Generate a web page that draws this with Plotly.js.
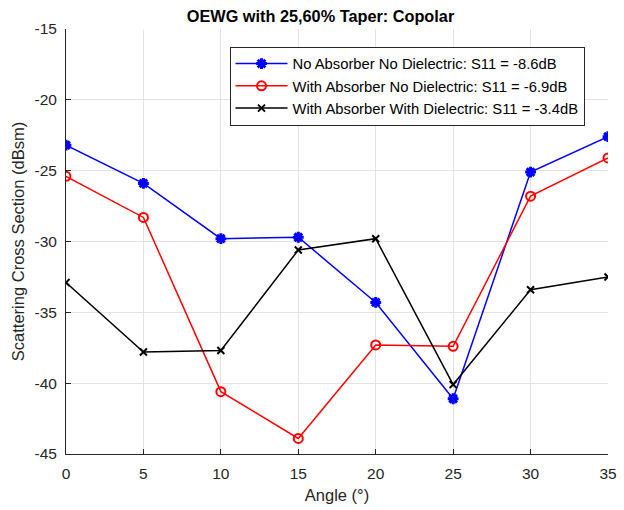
<!DOCTYPE html>
<html><head><meta charset="utf-8">
<script src="https://cdn.plot.ly/plotly-3.0.1.min.js"></script>
<style>html,body{margin:0;padding:0;background:#fff}#chart{width:624px;height:510px}</style>
</head><body><div id="chart"></div>
<script>
const angles = [0, 5, 10, 15, 20, 25, 30, 35];
const noAbsNoDiel = [-23.2, -25.9, -29.8, -29.7, -34.3, -41.1, -25.1, -22.6];
const absNoDiel = [-25.4, -28.3, -40.6, -43.9, -37.3, -37.4, -26.8, -24.1];
const absWithDiel = [-32.9, -37.8, -37.7, -30.6, -29.8, -40.1, -33.4, -32.5];
const seriesNames = [
  'No Absorber No Dielectric: S11 = -8.6dB',
  'With Absorber No Dielectric: S11 = -6.9dB',
  'With Absorber With Dielectric: S11 = -3.4dB'
];
const xTicks = [0, 5, 10, 15, 20, 25, 30, 35];
const yTicks = [-45, -40, -35, -30, -25, -20, -15];

const font = 'Liberation Sans, Arial, sans-serif';
const traces = [
  {x: angles, y: noAbsNoDiel, name: seriesNames[0], mode: 'lines+markers',
   line: {color: '#0000ff', width: 1.5},
   marker: {symbol: 'asterisk-open', size: 9, color: '#0000ff', line: {color: '#0000ff', width: 3}}},
  {x: angles, y: absNoDiel, name: seriesNames[1], mode: 'lines+markers',
   line: {color: '#ff0000', width: 1.5},
   marker: {symbol: 'circle-open', size: 9, color: '#ff0000', line: {color: '#ff0000', width: 2}}},
  {x: angles, y: absWithDiel, name: seriesNames[2], mode: 'lines+markers',
   line: {color: '#000000', width: 1.5},
   marker: {symbol: 'x-thin-open', size: 7, color: '#000000', line: {color: '#000000', width: 2}}}
];
const layout = {
  width: 624, height: 510,
  margin: {l: 66, r: 16, t: 29, b: 56},
  paper_bgcolor: '#fff', plot_bgcolor: '#fff',
  font: {family: font, color: '#262626', size: 15},
  title: {text: '<b>OEWG with 25,60% Taper: Copolar</b>', font: {family: font, size: 16.3, color: '#000'},
          x: 320.5 / 624, xanchor: 'center', y: 1 - 16 / 510, yanchor: 'middle'},
  xaxis: {range: [0, 35], tickvals: xTicks, ticktext: xTicks.map(String),
          showgrid: true, gridcolor: '#e3e3e3', gridwidth: 1,
          showline: true, linecolor: '#262626', linewidth: 1,
          ticks: 'inside', ticklen: 5, tickcolor: '#262626',
          zeroline: false, tickfont: {size: 15.5, color: '#262626'}, ticklabelstandoff: 5,
          title: {text: 'Angle (°)', font: {size: 16.5, color: '#262626'}, standoff: 8}},
  yaxis: {range: [-45, -15], tickvals: yTicks, ticktext: yTicks.map(String),
          showgrid: true, gridcolor: '#e3e3e3', gridwidth: 1,
          showline: true, linecolor: '#262626', linewidth: 1,
          ticks: 'inside', ticklen: 5, tickcolor: '#262626',
          zeroline: false, tickfont: {size: 15.5, color: '#262626'}, ticklabelstandoff: 5,
          title: {text: 'Scattering Cross Section (dBsm)', font: {size: 16.5, color: '#262626'}, standoff: 5}},
  showlegend: true,
  legend: {x: (229.5 - 66) / 542, xanchor: 'left', y: (454 - 46.5) / 425, yanchor: 'top',
           bgcolor: '#fff', bordercolor: '#262626', borderwidth: 1, itemwidth: 52,
           font: {family: font, size: 14.8, color: '#000'}, tracegroupgap: 0}
};
Plotly.newPlot('chart', traces, layout, {displayModeBar: false, staticPlot: true});
</script></body></html>
